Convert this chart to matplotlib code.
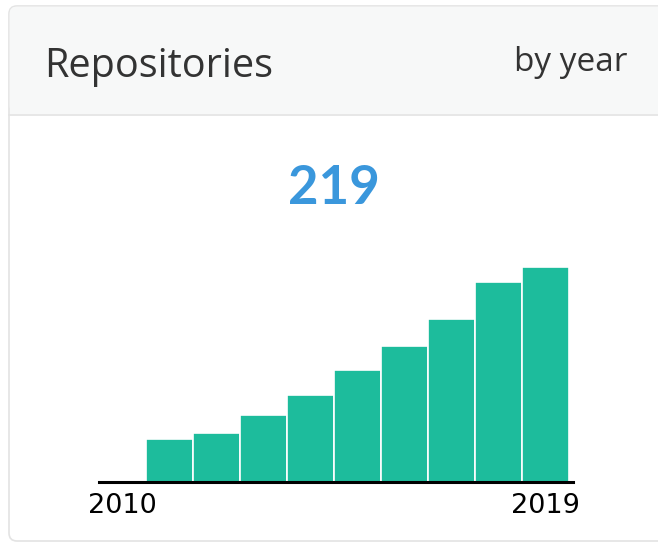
import matplotlib
matplotlib.use("Agg")
import matplotlib.pyplot as plt
from matplotlib.patches import FancyBboxPatch, Rectangle
import numpy as np

# data
years = [2010, 2011, 2012, 2013, 2014, 2015, 2016, 2017, 2018, 2019]
repos = [0, 44, 50, 68, 88, 114, 138, 166, 203, 219]
tick_labels = ['2010', '2019']
total = 219

W, H = 658, 544
fig = plt.figure(figsize=(W / 100, H / 100), dpi=100)
fig.patch.set_facecolor('white')

# background axes in pixel coords for the card
bg = fig.add_axes([0, 0, 1, 1])
bg.set_xlim(0, W)
bg.set_ylim(H, 0)
bg.axis('off')

card = FancyBboxPatch((9, 6), 700, 535, boxstyle='round,pad=0,rounding_size=8',
                      facecolor='white', edgecolor='#e3e3e3', linewidth=1.2)
bg.add_patch(card)
header = FancyBboxPatch((9.6, 6.6), 700, 106, boxstyle='round,pad=0,rounding_size=7',
                        facecolor='#f7f8f8', edgecolor='none')
bg.add_patch(header)
bg.add_patch(Rectangle((9.6, 60), 700, 54, facecolor='#f7f8f8', edgecolor='none'))
bg.plot([9, W], [114.5, 114.5], color='#e3e3e3', lw=1.2)

bg.text(44, 77, 'Repositories', fontsize=28.5, family='Open Sans', color='#333333',
        va='baseline', ha='left')
bg.text(628, 71, 'by year', fontsize=24, family='Open Sans', color='#333333',
        va='baseline', ha='right')
bg.text(334, 188, str(total), fontsize=38, family='Lato', fontweight='bold',
        color='#3a97dc', va='center', ha='center')

# bar chart
slot = 47.0
x0 = 99.0
x1 = 573.0
base, top = 482, 260
px_per_unit = 0.983
ax = fig.add_axes([x0 / W, (H - base) / H, (x1 - x0) / W, (base - top) / H])
x = np.arange(len(years))
ax.bar(x, repos, width=1.0, color='#1dbc9c', edgecolor='white', linewidth=1.2)
ax.set_xlim(-0.5, -0.5 + (x1 - x0) / slot)
ax.set_ylim(0, (base - top) / px_per_unit)
for s in ['top', 'right', 'left']:
    ax.spines[s].set_visible(False)
ax.spines['bottom'].set_linewidth(2.2)
ax.spines['bottom'].set_color('black')
ax.set_yticks([])
ax.set_xticks([0, len(years) - 1])
ax.set_xticklabels(tick_labels, fontsize=19.5, family='DejaVu Sans')
ax.tick_params(axis='x', length=0, pad=8)
ax.patch.set_alpha(0)

fig.savefig('out.png', dpi=100)
